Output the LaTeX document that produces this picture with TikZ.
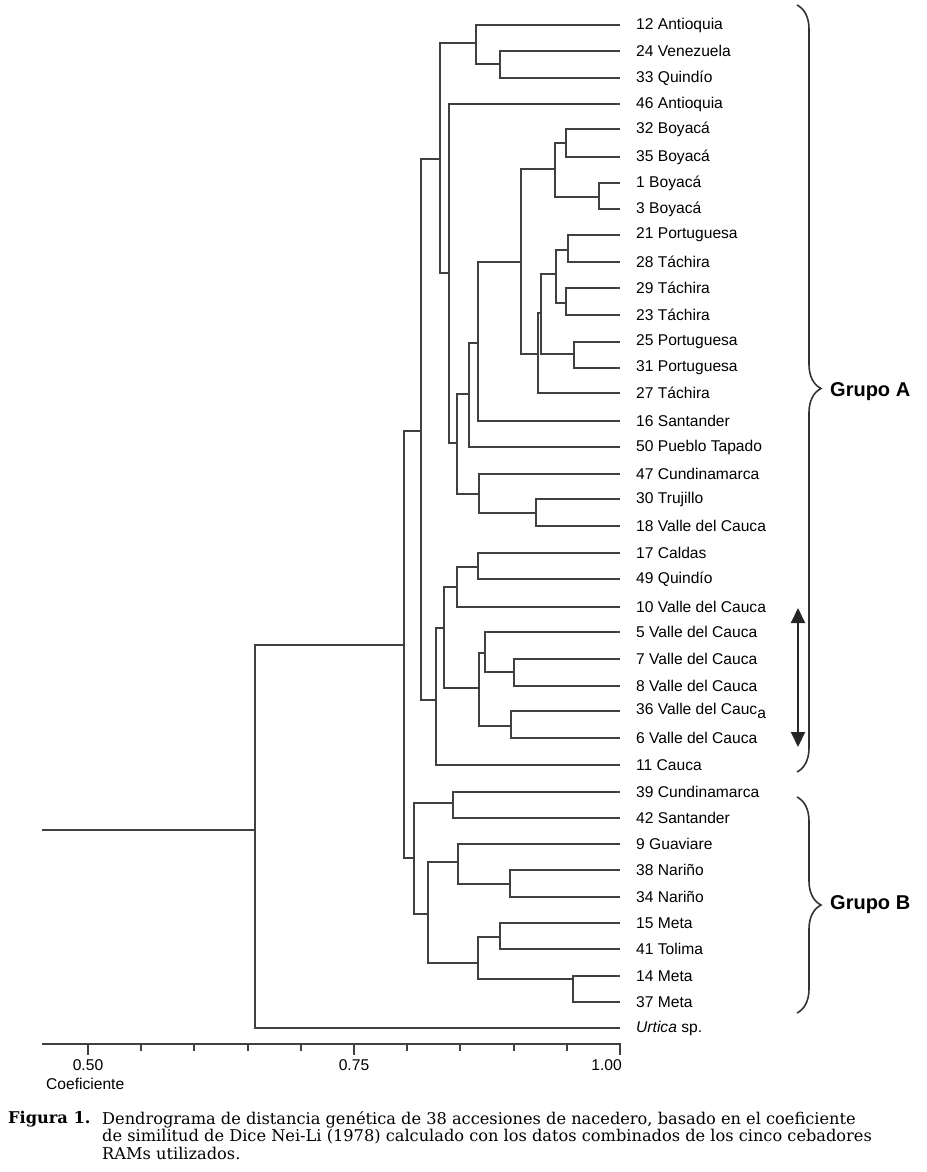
\documentclass[tikz,border=0pt]{standalone}
\usepackage{fontspec}
\setmainfont{Liberation Sans}
\newfontfamily\capfont{DejaVu Serif}
\usetikzlibrary{arrows.meta,decorations.pathreplacing}

\begin{document}
\begin{tikzpicture}
  [x=1pt,y=-1pt,
   every node/.style={font=\fontsize{15.6}{18}\selectfont,inner sep=0pt},
   leaf/.style={anchor=west,inner xsep=16pt},
   br/.style={draw=black!75,line width=1.9pt},
   grupo/.style={anchor=west,font=\bfseries\fontsize{20}{24}\selectfont},
   capt/.style={anchor=north west,align=left,font=\capfont\fontsize{16.2}{17.6}\selectfont}]
  \useasboundingbox (0,0) rectangle (926,1172);

  % accessions
  \node[leaf] (a12) at (620,25)  {12 Antioquia};
  \node[leaf] (a24) at (620,51)  {24 Venezuela};
  \node[leaf] (a33) at (620,78)  {33 Quindío};
  \node[leaf] (a46) at (620,104) {46 Antioquia};
  \node[leaf] (a32) at (620,129) {32 Boyacá};
  \node[leaf] (a35) at (620,157) {35 Boyacá};
  \node[leaf] (a1)  at (620,183) {1 Boyacá};
  \node[leaf] (a3)  at (620,209) {3 Boyacá};
  \node[leaf] (a21) at (620,235) {21 Portuguesa};
  \node[leaf] (a28) at (620,262) {28 Táchira};
  \node[leaf] (a29) at (620,288) {29 Táchira};
  \node[leaf] (a23) at (620,315) {23 Táchira};
  \node[leaf] (a25) at (620,342) {25 Portuguesa};
  \node[leaf] (a31) at (620,368) {31 Portuguesa};
  \node[leaf] (a27) at (620,393) {27 Táchira};
  \node[leaf] (a16) at (620,421) {16 Santander};
  \node[leaf] (a50) at (620,447) {50 Pueblo Tapado};
  \node[leaf] (a47) at (620,474) {47 Cundinamarca};
  \node[leaf] (a30) at (620,499) {30 Trujillo};
  \node[leaf] (a18) at (620,526) {18 Valle del Cauca};
  \node[leaf] (a17) at (620,553) {17 Caldas};
  \node[leaf] (a49) at (620,579) {49 Quindío};
  \node[leaf] (a10) at (620,607) {10 Valle del Cauca};
  \node[leaf] (a5)  at (620,632) {5 Valle del Cauca};
  \node[leaf] (a7)  at (620,659) {7 Valle del Cauca};
  \node[leaf] (a8)  at (620,686) {8 Valle del Cauca};
  \node[leaf] (a36) at (620,711) {36 Valle del Cauc\raisebox{-4pt}{a}};
  \node[leaf] (a6)  at (620,738) {6 Valle del Cauca};
  \node[leaf] (a11) at (620,765) {11 Cauca};
  \node[leaf] (a39) at (620,792) {39 Cundinamarca};
  \node[leaf] (a42) at (620,818) {42 Santander};
  \node[leaf] (a9)  at (620,844) {9 Guaviare};
  \node[leaf] (a38) at (620,870) {38 Nariño};
  \node[leaf] (a34) at (620,897) {34 Nariño};
  \node[leaf] (a15) at (620,923) {15 Meta};
  \node[leaf] (a41) at (620,949) {41 Tolima};
  \node[leaf] (a14) at (620,976) {14 Meta};
  \node[leaf] (a37) at (620,1002) {37 Meta};
  \node[leaf] (urt) at (620,1028) {\textit{Urtica} sp.};

  % clusters
  \coordinate (n1)  at (500,64);
  \coordinate (n2)  at (476,43);
  \coordinate (n3)  at (566,143);
  \coordinate (n4)  at (599,197);
  \coordinate (n5)  at (555,169);
  \coordinate (n6)  at (568,250);
  \coordinate (n7)  at (566,303);
  \coordinate (n8)  at (556,274);
  \coordinate (n9)  at (574,354);
  \coordinate (n10) at (541,313);
  \coordinate (n11) at (538,354);
  \coordinate (n12) at (521,262);
  \coordinate (n13) at (478,343);
  \coordinate (n14) at (469,394);
  \coordinate (n15) at (536,513);
  \coordinate (n16) at (479,494);
  \coordinate (n17) at (457,443);
  \coordinate (n18) at (449,273);
  \coordinate (n19) at (440,159);
  \coordinate (n20) at (478,567);
  \coordinate (n21) at (457,587);
  \coordinate (n22) at (514,672);
  \coordinate (n23) at (485,653);
  \coordinate (n24) at (511,726);
  \coordinate (n25) at (479,688);
  \coordinate (n26) at (444,628);
  \coordinate (n27) at (436,700);
  \coordinate (n28) at (421,431);
  \coordinate (n29) at (453,803);
  \coordinate (n30) at (510,884);
  \coordinate (n31) at (458,862);
  \coordinate (n32) at (500,937);
  \coordinate (n33) at (573,979);
  \coordinate (n34) at (478,963);
  \coordinate (n35) at (428,914);
  \coordinate (n36) at (414,858);
  \coordinate (n37) at (404,645);
  \coordinate (n38) at (255,830);
  \coordinate (n0)  at (42,830);

  \foreach \from/\to in {n1/a24.west,n1/a33.west,n2/a12.west,n2/n1,
  n3/a32.west,n3/a35.west,n4/a1.west,n4/a3.west,n5/n3,n5/n4,
  n6/a21.west,n6/a28.west,n7/a29.west,n7/a23.west,n8/n6,n8/n7,
  n9/a25.west,n9/a31.west,n10/n8,n10/n9,n11/n10,n11/a27.west,
  n12/n5,n12/n11,n13/n12,n13/a16.west,n14/n13,n14/a50.west,
  n15/a30.west,n15/a18.west,n16/a47.west,n16/n15,n17/n14,n17/n16,
  n18/a46.west,n18/n17,n19/n2,n19/n18,
  n20/a17.west,n20/a49.west,n21/n20,n21/a10.west,
  n22/a7.west,n22/a8.west,n23/a5.west,n23/n22,n24/a36.west,n24/a6.west,
  n25/n23,n25/n24,n26/n21,n26/n25,n27/n26,n27/a11.west,n28/n19,n28/n27,
  n29/a39.west,n29/a42.west,n30/a38.west,n30/a34.west,n31/a9.west,n31/n30,
  n32/a15.west,n32/a41.west,n33/a14.west,n33/a37.west,n34/n32,n34/n33,
  n35/n31,n35/n34,n36/n29,n36/n35,n37/n28,n37/n36,
  n38/n37,n38/urt.west,n0/n38}
    \draw[br] (\from) |- (\to);

  % axis
  \coordinate (ax0) at (42,1044);
  \coordinate (ax1) at (621,1044);
  \draw[br] (ax0) -- (ax1);
  \foreach \t in {1,2,3,4,6,7,8,9}
    \draw[br] (88+53.2*\t,1044) -- ++(0,7);
  \foreach \t in {0,5,10}
    \draw[br] (88+53.2*\t,1044) -- ++(0,11);
  \node (t50) at (88,1065) {0.50};
  \node (t75) at (354,1065) {0.75};
  \node[anchor=east] (t100) at (622,1065) {1.00};
  \node[anchor=west] (coef) at (46,1084) {Coeficiente};

  % groups
  \coordinate (bA1) at (797,5);
  \coordinate (bA2) at (797,772);
  \coordinate (bB1) at (797,797);
  \coordinate (bB2) at (797,1013);
  \draw[decorate,decoration={brace,amplitude=24pt},draw=black!80,line width=1.6pt] (bA1) -- (bA2);
  \draw[decorate,decoration={brace,amplitude=24pt},draw=black!80,line width=1.6pt] (bB1) -- (bB2);
  \node[grupo] (grA) at (830,392) {Grupo A};
  \node[grupo] (grB) at (830,905) {Grupo B};
  \coordinate (ar1) at (798,608);
  \coordinate (ar2) at (798,747);
  \draw[{Triangle[width=14pt,length=15pt]}-{Triangle[width=14pt,length=15pt]},line width=2pt,black!85] (ar1) -- (ar2);

  % caption
  \node[capt,font=\capfont\bfseries\fontsize{16.2}{17.6}\selectfont] (fig) at (8,1111) {Figura 1.};
  \node[capt] (cap) at (102,1111) {Dendrograma de distancia genética de 38 accesiones de nacedero, basado en el coeficiente\\
  de similitud de Dice Nei-Li (1978) calculado con los datos combinados de los cinco cebadores\\
  RAMs utilizados.};
\end{tikzpicture}
\end{document}
